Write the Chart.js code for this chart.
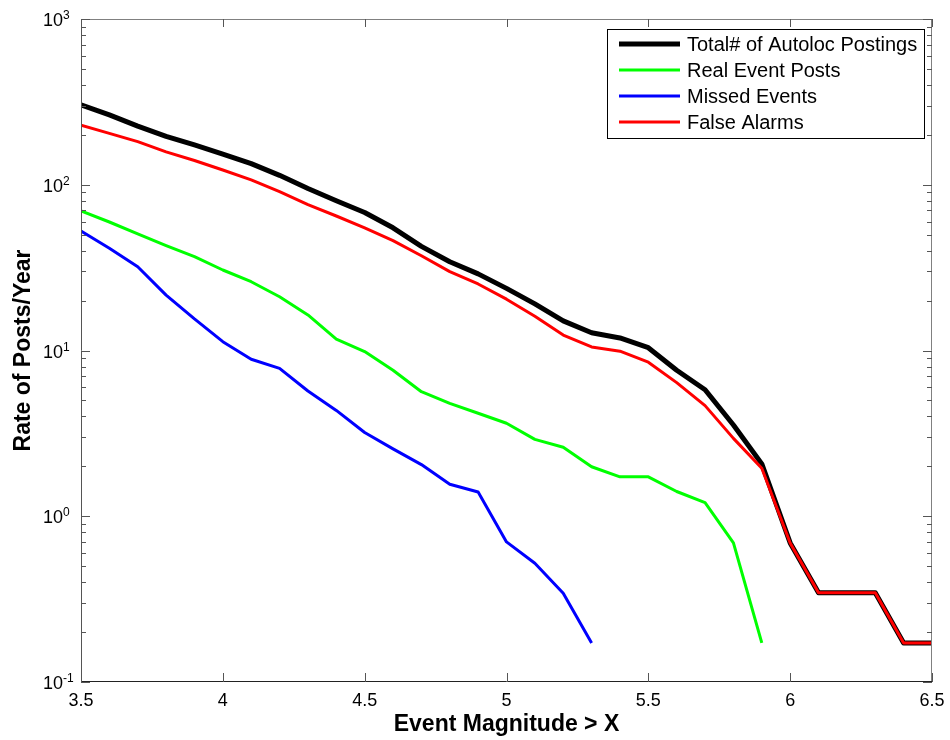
<!DOCTYPE html>
<html>
<head>
<meta charset="utf-8">
<script src="https://cdn.jsdelivr.net/npm/chart.js@4/dist/chart.umd.min.js"></script>
<style>
  body { margin: 0; background: #fff; }
  #wrap { width: 950px; height: 740px; }
</style>
</head>
<body>
<div id="wrap"><canvas id="myChart"></canvas></div>
<script>
// magnitude thresholds
var magnitudes = [3.5, 3.6, 3.7, 3.8, 3.9, 4.0, 4.1, 4.2, 4.3, 4.4, 4.5, 4.6, 4.7, 4.8, 4.9,
  5.0, 5.1, 5.2, 5.3, 5.4, 5.5, 5.6, 5.7, 5.8, 5.9, 6.0, 6.1, 6.2, 6.3, 6.4, 6.5];

var totalPosts = [303, 264, 226, 196, 174, 153, 134, 114, 95, 80, 68, 55, 42.5, 34.3, 29,
  23.7, 19.1, 15.1, 12.8, 11.9, 10.4, 7.6, 5.8, 3.55, 2.07, 0.69, 0.345, 0.345, 0.345, 0.172, 0.172];
var realPosts = [69.5, 59.6, 50.5, 42.9, 36.8, 30.6, 26, 21.1, 16.4, 11.7, 9.85, 7.6, 5.64, 4.8, 4.18,
  3.64, 2.91, 2.61, 1.99, 1.73, 1.73, 1.41, 1.21, 0.69, 0.172, null, null, null, null, null, null];
var missedEvents = [52.6, 41.4, 32, 21.6, 15.5, 11.3, 8.85, 7.8, 5.7, 4.35, 3.2, 2.55, 2.05, 1.56, 1.4,
  0.70, 0.52, 0.343, 0.172, null, null, null, null, null, null, null, null, null, null, null, null];
var falseAlarms = [229, 204, 182, 158, 140, 122.7, 107, 90.8, 75.8, 64.8, 55, 46, 37.3, 29.9, 25.2,
  20.4, 16.1, 12.4, 10.5, 9.9, 8.5, 6.4, 4.65, 2.95, 1.95, 0.69, 0.345, 0.345, 0.345, 0.172, 0.172];

var seriesLabels = ["Total# of Autoloc Postings", "Real Event Posts", "Missed Events", "False Alarms"];
var seriesColors = ["#000000", "#00ff00", "#0000ff", "#ff0000"];
var seriesWidths = [5, 3, 3, 3];

var xTicks = [3.5, 4, 4.5, 5, 5.5, 6, 6.5];
var yDecades = [-1, 0, 1, 2, 3];

var FONT = '"Liberation Sans", Arial, Helvetica, sans-serif';

function toPoints(vals) {
  var pts = [];
  vals.forEach(function (v, i) {
    if (v !== null) pts.push({ x: magnitudes[i], y: v });
  });
  return pts;
}

var allSeries = [totalPosts, realPosts, missedEvents, falseAlarms];

// draws the matlab-like axes box, ticks, labels and legend
var axesPlugin = {
  id: "axesBox",
  afterDraw: function (chart) {
    var ctx = chart.ctx;
    var a = chart.chartArea;
    var xs = chart.scales.x;
    var ys = chart.scales.y;
    ctx.save();

    // box
    ctx.lineWidth = 1;
    ctx.strokeStyle = "#808080";
    ctx.beginPath();
    ctx.moveTo(a.left + 0.5, a.top + 0.5);
    ctx.lineTo(a.right - 0.5, a.top + 0.5);
    ctx.lineTo(a.right - 0.5, a.bottom);
    ctx.stroke();
    ctx.strokeStyle = "#555";
    ctx.beginPath();
    ctx.moveTo(a.left + 0.5, a.top);
    ctx.lineTo(a.left + 0.5, a.bottom);
    ctx.stroke();
    ctx.strokeStyle = "#222";
    ctx.beginPath();
    ctx.moveTo(a.left, a.bottom - 0.5);
    ctx.lineTo(a.right, a.bottom - 0.5);
    ctx.stroke();

    // y ticks (major + minor), both sides
    ctx.strokeStyle = "#555";
    yDecades.forEach(function (d) {
      for (var m = 1; m <= 9; m++) {
        var v = m * Math.pow(10, d);
        if (v > 1000) break;
        var yp = Math.round(ys.getPixelForValue(v)) + 0.5;
        var len = m === 1 ? 9 : 5;
        ctx.beginPath();
        ctx.moveTo(a.left, yp);
        ctx.lineTo(a.left + len, yp);
        ctx.moveTo(a.right, yp);
        ctx.lineTo(a.right - len, yp);
        ctx.stroke();
      }
    });

    // x ticks, bottom and top
    xTicks.forEach(function (t) {
      var xp = Math.round(xs.getPixelForValue(t)) + 0.5;
      ctx.beginPath();
      ctx.moveTo(xp, a.bottom);
      ctx.lineTo(xp, a.bottom - 9);
      ctx.moveTo(xp, a.top);
      ctx.lineTo(xp, a.top + 8);
      ctx.stroke();
    });

    // tick labels
    ctx.fillStyle = "#000";
    ctx.textBaseline = "alphabetic";
    xTicks.forEach(function (t) {
      ctx.font = "18px " + FONT;
      ctx.textAlign = "center";
      ctx.fillText(String(t), xs.getPixelForValue(t), a.bottom + 24);
    });
    yDecades.forEach(function (d) {
      var yp = ys.getPixelForValue(Math.pow(10, d));
      ctx.font = "18px " + FONT;
      ctx.textAlign = "right";
      ctx.fillText("10", a.left - 18, yp + 7);
      ctx.font = "12px " + FONT;
      ctx.textAlign = "left";
      ctx.fillText(String(d), a.left - 18, yp);
    });

    // axis titles
    ctx.font = "bold 23px " + FONT;
    ctx.textAlign = "center";
    ctx.fillText("Event Magnitude > X", (a.left + a.right) / 2, 731);
    ctx.save();
    ctx.translate(30, (a.top + a.bottom) / 2);
    ctx.rotate(-Math.PI / 2);
    ctx.fillText("Rate of Posts/Year", 0, 0);
    ctx.restore();

    // legend
    var lx = 607, ly = 29, lw = 317, lh = 109;
    ctx.fillStyle = "#fff";
    ctx.fillRect(lx, ly, lw, lh);
    ctx.strokeStyle = "#000";
    ctx.lineWidth = 1;
    ctx.strokeRect(lx + 0.5, ly + 0.5, lw, lh);
    chart.data.datasets.forEach(function (ds, i) {
      var ry = 44 + i * 26;
      ctx.strokeStyle = ds.borderColor;
      ctx.lineWidth = ds.borderWidth;
      ctx.beginPath();
      ctx.moveTo(619, ry);
      ctx.lineTo(680, ry);
      ctx.stroke();
      ctx.fillStyle = "#000";
      ctx.font = "20px " + FONT;
      ctx.textAlign = "left";
      ctx.fillText(ds.label, 687, ry + 7);
    });
    ctx.restore();
  }
};

var ctx = document.getElementById("myChart").getContext("2d");
var chart = new Chart(ctx, {
  type: "line",
  data: {
    datasets: allSeries.map(function (vals, i) {
      return {
        label: seriesLabels[i],
        data: toPoints(vals),
        borderColor: seriesColors[i],
        backgroundColor: seriesColors[i],
        borderWidth: seriesWidths[i],
        pointRadius: 0,
        tension: 0,
        fill: false,
        order: 4 - i,
        borderJoinStyle: "round",
        borderCapStyle: "butt"
      };
    })
  },
  options: {
    responsive: true,
    maintainAspectRatio: false,
    animation: false,
    devicePixelRatio: 1,
    layout: { padding: { left: 81, right: 18, top: 19, bottom: 58 } },
    plugins: { legend: { display: false }, tooltip: { enabled: false } },
    scales: {
      x: { type: "linear", min: 3.5, max: 6.5, display: false },
      y: { type: "logarithmic", min: 0.1, max: 1000, display: false }
    }
  },
  plugins: [axesPlugin]
});
</script>
</body>
</html>
